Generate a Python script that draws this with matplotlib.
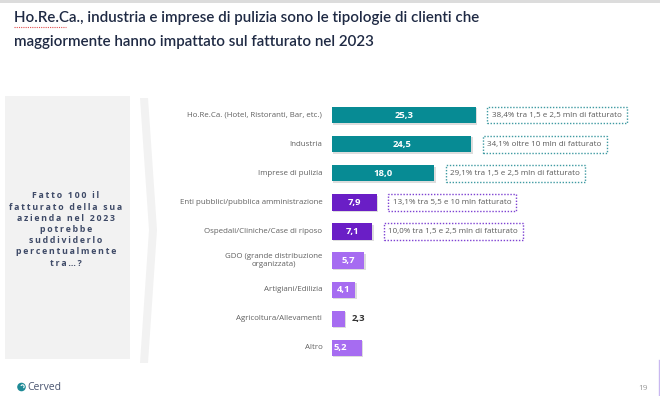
import matplotlib
matplotlib.use("Agg")
import matplotlib.pyplot as plt
import matplotlib.patches as mpatches
import matplotlib.patheffects as pe

# ---------------- data ----------------
categories = [
    "Ho.Re.Ca. (Hotel, Ristoranti, Bar, etc.)",
    "Industria",
    "Imprese di pulizia",
    "Enti pubblici/pubblica amministrazione",
    "Ospedali/Cliniche/Case di riposo",
    "GDO (grande distribuzione\norganizzata)",
    "Artigiani/Edilizia",
    "Agricoltura/Allevamenti",
    "Altro",
]
values = [25.3, 24.5, 18.0, 7.9, 7.1, 5.7, 4.1, 2.3, 5.2]
value_labels = ["25,3", "24,5", "18,0", "7,9", "7,1", "5,7", "4,1", "2,3", "5,2"]
groups = ["top", "top", "top", "mid", "mid", "low", "low", "low", "low"]
notes = [
    "38,4% tra 1,5 e 2,5 mln di fatturato",
    "34,1% oltre 10 mln di fatturato",
    "29,1% tra 1,5 e 2,5 mln di fatturato",
    "13,1% tra 5,5 e 10 mln fatturato",
    "10,0% tra 1,5 e 2,5 mln di fatturato",
    None, None, None, None,
]

title_lines = ["Ho.Re.Ca., industria e imprese di pulizia sono le tipologie di clienti che",
               "maggiormente hanno impattato sul fatturato nel 2023"]
side_lines = ["Fatto 100 il", "fatturato della sua", "azienda nel 2023", "potrebbe",
              "suddividerlo", "percentualmente", "tra\u2026?"]

# ---------------- style ----------------
colors = {"top": "#078B94", "mid": "#6A1EC6", "low": "#A66CF1"}
note_colors = {"top": "#3F9AA2", "mid": "#7E42D2"}
FONT = ["Open Sans", "DejaVu Sans"]
W, H = 660, 396

fig = plt.figure(figsize=(6.6, 3.96), dpi=100)
fig.patch.set_facecolor("white")

# background / decoration axes in pixel coordinates
bg = fig.add_axes([0, 0, 1, 1])
bg.set_xlim(0, W)
bg.set_ylim(H, 0)
bg.axis("off")

bg.add_patch(mpatches.Rectangle((0, 0), W, 2.5, color="#DCDCDC", lw=0))
bg.add_patch(mpatches.Rectangle((5, 96), 125, 263, color="#F2F2F2", lw=0))
bg.add_patch(mpatches.Polygon([(140, 98), (148, 98), (157, 230), (148, 363),
                               (140, 363), (149, 230)], closed=True,
                              color="#F2F2F2", lw=0))
bg.plot([659, 659], [360, 396], color="#C9B8F0", lw=1)

for i, line in enumerate(title_lines):
    bg.text(14, 18 + i * 24, line, fontsize=10.9, fontweight="semibold", color="#1F2A44",
            family=["Lato", "DejaVu Sans"], va="center", ha="left")
bg.plot([14, 66], [27, 27], color="#E05050", lw=0.8, ls=(0, (1, 1)))

# side question text with letter spacing
for i, line in enumerate(side_lines):
    spaced = "\u2009".join(list(line)).replace("\u2009 \u2009", "\u2009\u2009 ")
    bg.text(66, 196 + i * 11.2, spaced, fontsize=6.3, fontweight="bold",
            color="#3E4A67", family=FONT, ha="center", va="center")

# Cerved logo + page number
bg.add_patch(mpatches.Circle((21.5, 387), 4.3, color="#1E8A96", lw=0))
bg.add_patch(mpatches.Wedge((22.5, 386.5), 2.2, 200, 420, width=1.1, color="white", lw=0))
bg.text(27, 387.5, "Cerved", fontsize=7.5, color="#4A5570", family=FONT,
        ha="left", va="center")
bg.text(643, 389, "19", fontsize=6, color="#9A9A9A", family=FONT,
        ha="center", va="center")

# ---------------- bar chart ----------------
px_per_unit = 5.69
x0, x1 = 332, 640
top, bottom = 100.5, 362.5
ax = fig.add_axes([x0 / W, 1 - bottom / H, (x1 - x0) / W, (bottom - top) / H])
ax.set_xlim(0, (x1 - x0) / px_per_unit)
ax.set_ylim(len(categories) - 0.5, -0.5)
ax.axis("off")

ypos = list(range(len(categories)))
bar_colors = [colors[g] for g in groups]
bars = ax.barh(ypos, values, height=0.56, color=bar_colors, lw=0)
for b in bars:
    b.set_path_effects([pe.SimplePatchShadow(offset=(1.0, -1.0), shadow_rgbFace="#909090",
                                             alpha=0.3), pe.Normal()])

for y, v, lab, cat, g, note in zip(ypos, values, value_labels, categories, groups, notes):
    # category label
    ax.annotate(cat, xy=(0, y), xytext=(-7, 0), textcoords="offset points",
                ha="right", va="center", ma="center", fontsize=5.7, color="#606060",
                family=FONT, linespacing=1.3)
    # value label
    if v < 3:
        ax.annotate(lab, xy=(v, y), xytext=(5, 0), textcoords="offset points",
                    ha="left", va="center", fontsize=6.8, fontweight="bold",
                    color="#333333", family=FONT)
    elif cat == "Altro":
        ax.annotate(lab, xy=(0, y), xytext=(1, 0), textcoords="offset points",
                    ha="left", va="center", fontsize=6.8, fontweight="bold",
                    color="white", family=FONT)
    else:
        ax.text(v / 2, y, lab, ha="center", va="center", fontsize=6.8,
                fontweight="bold", color="white", family=FONT)
    # note box
    if note:
        ax.annotate(note, xy=(v, y), xytext=(11.5, 0), textcoords="offset points",
                    ha="left", va="center", fontsize=5.8, color="#5A5A5A", family=FONT,
                    bbox=dict(boxstyle="square,pad=0.6", fc="white",
                              ec=note_colors[g], lw=1.0, ls=(0, (1, 1.2))))

fig.savefig("out.png", dpi=100, facecolor="white")
